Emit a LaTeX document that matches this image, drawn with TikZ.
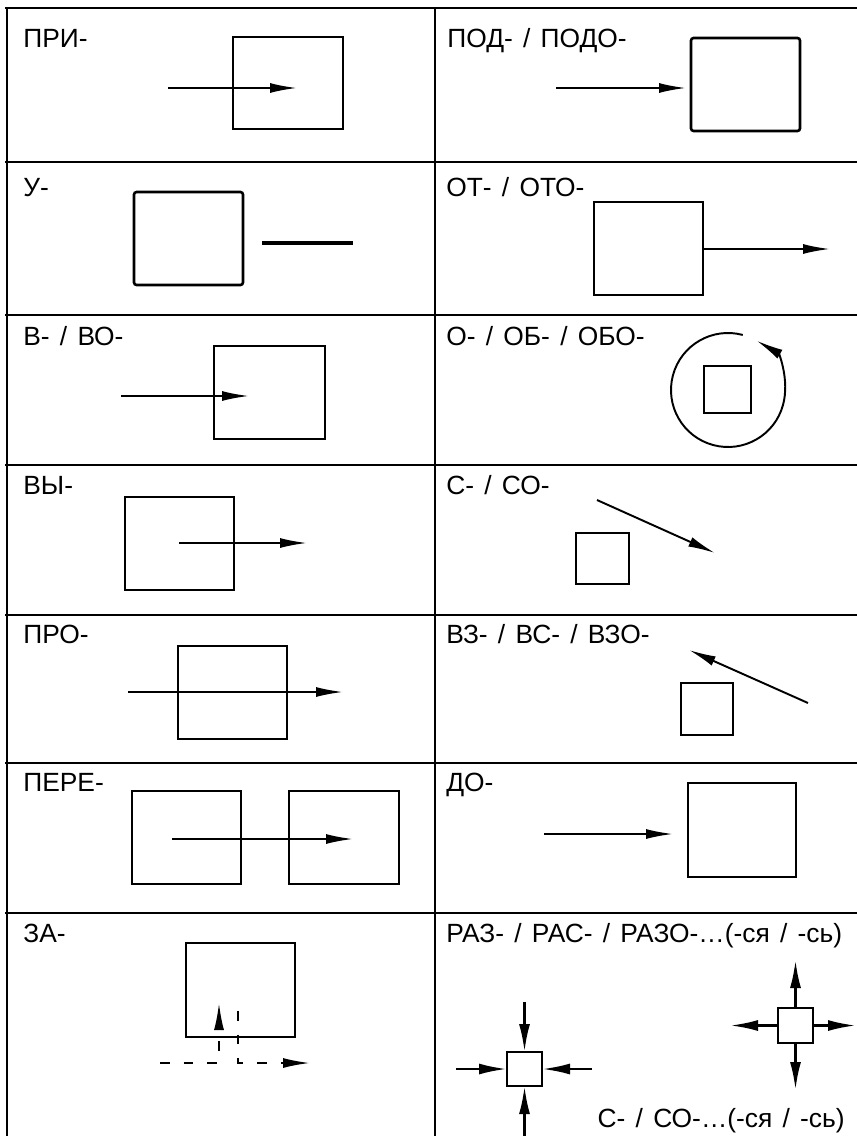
\documentclass[tikz,border=0pt]{standalone}
\usepackage{fontspec}
\setmainfont{Liberation Sans}[WordSpace=1.4]
\usetikzlibrary{arrows.meta}

\tikzset{
  frame/.style={line width=1.1pt},
  box/.style={line width=1.5pt},
  arr/.style={line width=1.1pt,-{Latex[length=5.4mm,width=2mm]}},
  bigarr/.style={line width=1.5pt,-{Latex[length=5.6mm,width=2.2mm]}},
  lbl/.style={anchor=base west,inner sep=0pt,font=\fontsize{15}{17}\selectfont}
}

\begin{document}
\begin{tikzpicture}[x=0.02cm,y=-0.02cm]
      \useasboundingbox (0,0) rectangle (857,1136);

      \foreach \y in {8,162,315,465,615,763,913}
        \draw[frame] (5,\y) -- (857,\y);
      \draw[line width=1.5pt] (7,8) -- (7,1136);
      \draw[frame] (435,8) -- (435,1136);

      \node[lbl] (pri) at (23,47) {ПРИ-};
      \draw[box] (233,37) rectangle (343,129);
      \draw[arr] (168,88) -- (297,88);

      \node[lbl] (pod) at (447,47) {ПОД- / ПОДО-};
      \draw[box,rounded corners=1.5pt] (691,38) rectangle (800,131);
      \draw[arr] (556,88) -- (686,88);

      \node[lbl] (u) at (23,196) {У-};
      \draw[box,rounded corners=1.5pt] (134,192) rectangle (243,285);
      \draw[line width=2.2pt] (262,243) -- (353,243);

      \node[lbl] (ot) at (446,196) {ОТ- / ОТО-};
      \draw[box] (594,202) rectangle (703,295);
      \draw[arr] (703,249) -- (830,249);

      \node[lbl] (v) at (23,345) {В- / ВО-};
      \draw[box] (214,346) rectangle (325,439);
      \draw[arr] (121,396) -- (249,396);

      \node[lbl] (ob) at (446,345) {О- / ОБ- / ОБО-};
      \coordinate (obc) at (728,390);
      \draw[arr] (obc) ++(-75:57) arc[start angle=-75,end angle=-420,radius=57];
      \draw[box,line width=1.3pt] (704,366) rectangle (751,413);

      \node[lbl] (vy) at (23,494) {ВЫ-};
      \draw[box] (125,497) rectangle (234,590);
      \draw[arr] (179,543) -- (307,543);

      \node[lbl] (so) at (446,494) {С- / СО-};
      \draw[box,line width=1.3pt] (576,533) rectangle (629,584);
      \draw[arr] (597,500) -- (715,553);

      \node[lbl] (pro) at (23,643) {ПРО-};
      \draw[box] (178,646) rectangle (287,739);
      \draw[arr] (128,692) -- (343,692);

      \node[lbl] (vz) at (446,643) {ВЗ- / ВС- / ВЗО-};
      \draw[box,line width=1.3pt] (681,683) rectangle (733,735);
      \draw[arr] (808,703) -- (689,650);

      \node[lbl] (pere) at (23,791) {ПЕРЕ-};
      \draw[box] (132,791) rectangle (241,884);
      \draw[box] (289,791) rectangle (399,884);
      \draw[arr] (172,839) -- (353,839);

      \node[lbl] (do) at (446,791) {ДО-};
      \draw[box] (688,783) rectangle (796,877);
      \draw[arr] (544,834) -- (673,834);

      \node[lbl] (za) at (23,942) {ЗА-};
      \draw[box] (186,943) rectangle (295,1037);
      \draw[arr,dash pattern=on 5.5pt off 8pt] (160,1063) -| (219,1003);
      \draw[arr,dash pattern=on 5.5pt off 8pt] (238,1011) |- (310,1063);

      \node[lbl] (raz) at (446,942) {РАЗ- / РАС- / РАЗО-…(-ся / -сь)};
      \node[lbl,anchor=base east] (sso) at (845,1127) {С- / СО-…(-ся / -сь)};
      \draw[box] (778,1008) rectangle (813,1043);
      \draw[bigarr] (795.5,1008) -- (795.5,960);
      \draw[bigarr] (795.5,1043) -- (795.5,1090);
      \draw[bigarr] (778,1025.5) -- (730,1025.5);
      \draw[bigarr] (813,1025.5) -- (856,1025.5);
      \draw[box] (507,1052) rectangle (542,1086);
      \draw[bigarr] (524.5,1002) -- (524.5,1052);
      \draw[bigarr] (524.5,1136) -- (524.5,1086);
      \draw[bigarr] (456,1069) -- (507,1069);
      \draw[bigarr] (592,1069) -- (542,1069);
    \end{tikzpicture}
\end{document}
